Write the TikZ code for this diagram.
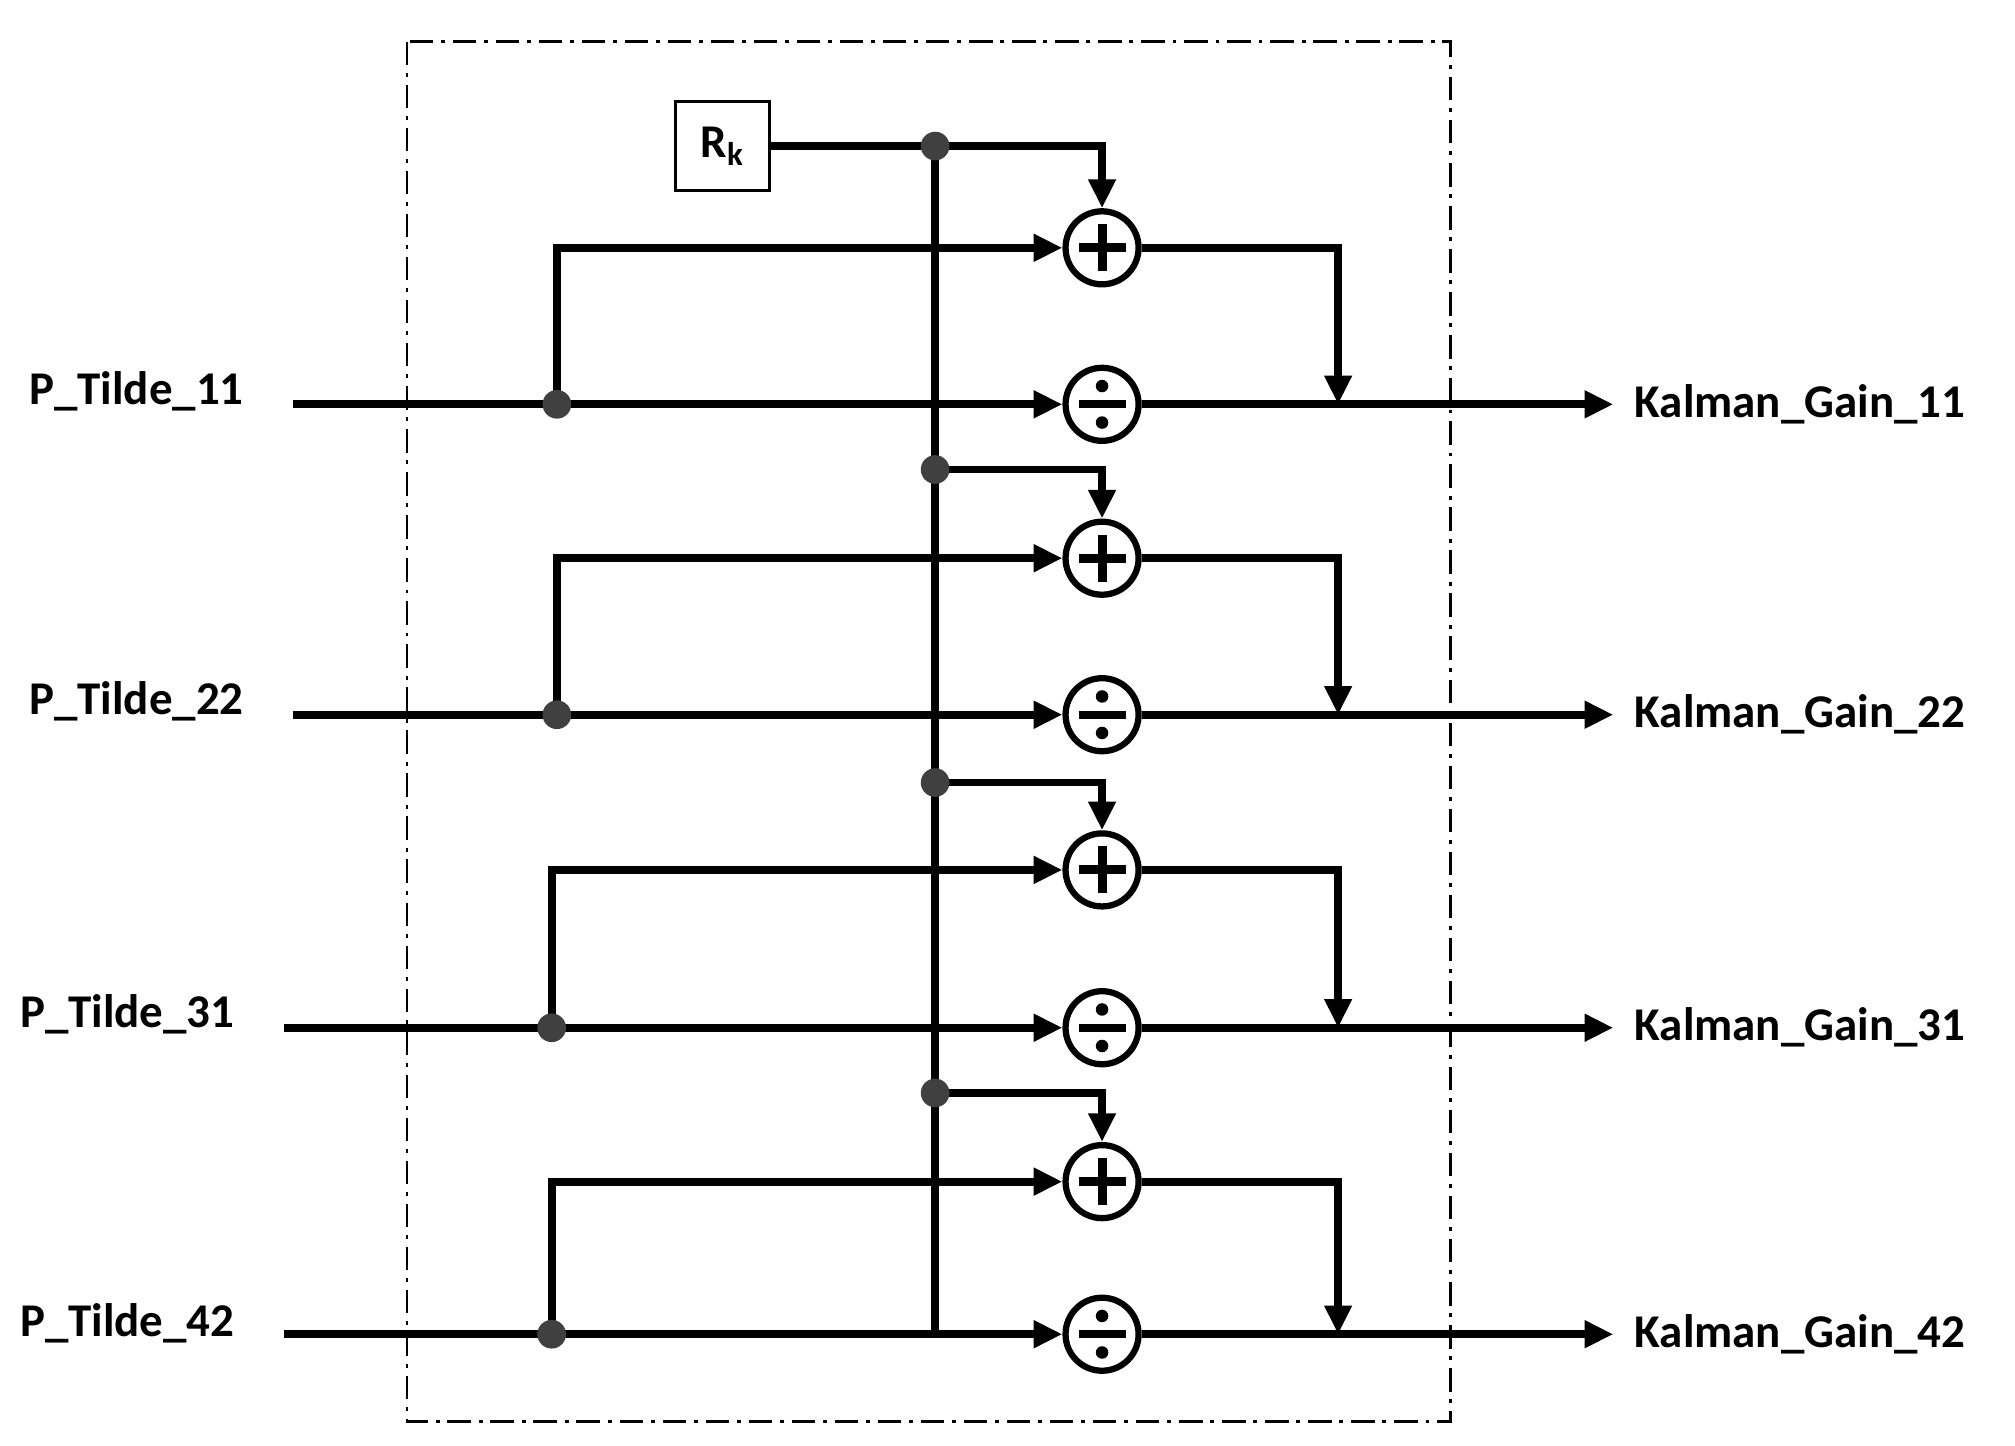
\documentclass[tikz,border=0pt]{standalone}
\usepackage{fontspec}
\setmainfont{Carlito}
\usetikzlibrary{arrows.meta}
\begin{document}
\begin{tikzpicture}[x=0.5pt,y=-0.5pt,
  wire/.style={line width=3pt},
  arr/.style={wire,-{Triangle[length=11pt,width=10pt]}},
  opnode/.style={circle,draw,line width=2.4pt,minimum size=28pt,inner sep=0pt},
  plusop/.style={opnode,path picture={\draw[line width=3.4pt] ([xshift=-9pt]path picture bounding box.center)--([xshift=9pt]path picture bounding box.center);
     \draw[line width=3.4pt] ([yshift=-9pt]path picture bounding box.center)--([yshift=9pt]path picture bounding box.center);}},
  divop/.style={opnode,path picture={\draw[line width=3pt] ([xshift=-9pt]path picture bounding box.center)--([xshift=9pt]path picture bounding box.center);
     \fill ([yshift=7pt]path picture bounding box.center) circle (2.4pt);
     \fill ([yshift=-7pt]path picture bounding box.center) circle (2.4pt);}},
  jdot/.style={circle,fill=black!75,inner sep=0pt,minimum size=11pt},
  lbl/.style={font=\fontsize{18}{21}\selectfont\bfseries,inner sep=0pt}]
\useasboundingbox (0,0) rectangle (1545,1108);
\draw[line width=1pt,dash pattern=on 9pt off 3pt on 1.5pt off 3pt] (312,32) rectangle (1112,1090);
\node[draw,line width=1.2pt,minimum width=36pt,minimum height=34pt,lbl] (rk) at (554,112) {R\textsubscript{k}};
\coordinate (bt) at (717,112);
\coordinate (bb) at (717,1020);
\draw[wire] (bt)--(bb);
\foreach \i/\py/\dy/\xs/\xd/\lab/\ly in {1/190/310/225/427/11/300,2/428/548/225/427/22/538,3/667/788/218/423/31/778,4/906/1023/218/423/42/1015}{
  \node[plusop] (p\i) at (845,\py) {};
  \node[divop] (d\i) at (845,\dy) {};
  \coordinate (in\i) at (\xs,\dy);
  \coordinate (j\i) at (\xd,\dy);
  \coordinate (out\i) at (1237,\dy);
  \coordinate (m\i) at (1026,\dy);
  \draw[wire] (in\i)--(j\i);
  \draw[arr] (j\i)--(d\i.west);
  \draw[arr] (j\i)|-(p\i.west);
  \draw[arr] (p\i.east)-|(m\i);
  \draw[arr] (d\i.east)--(out\i);
  \node[jdot] at (j\i) {};
  \node[lbl,anchor=west] at (\xs-203,\ly) {P\_Tilde\_\lab};
  \node[lbl,anchor=west] at (1253,\dy) {Kalman\_Gain\_\lab};
}
\draw[arr] (rk.east)-|(p1.north);
\node[jdot] at (bt) {};
\foreach \i/\y in {2/360,3/600,4/838}{
  \coordinate (b\i) at (717,\y);
  \draw[arr] (b\i)-|(p\i.north);
  \node[jdot] at (b\i) {};
}
\end{tikzpicture}
\end{document}
